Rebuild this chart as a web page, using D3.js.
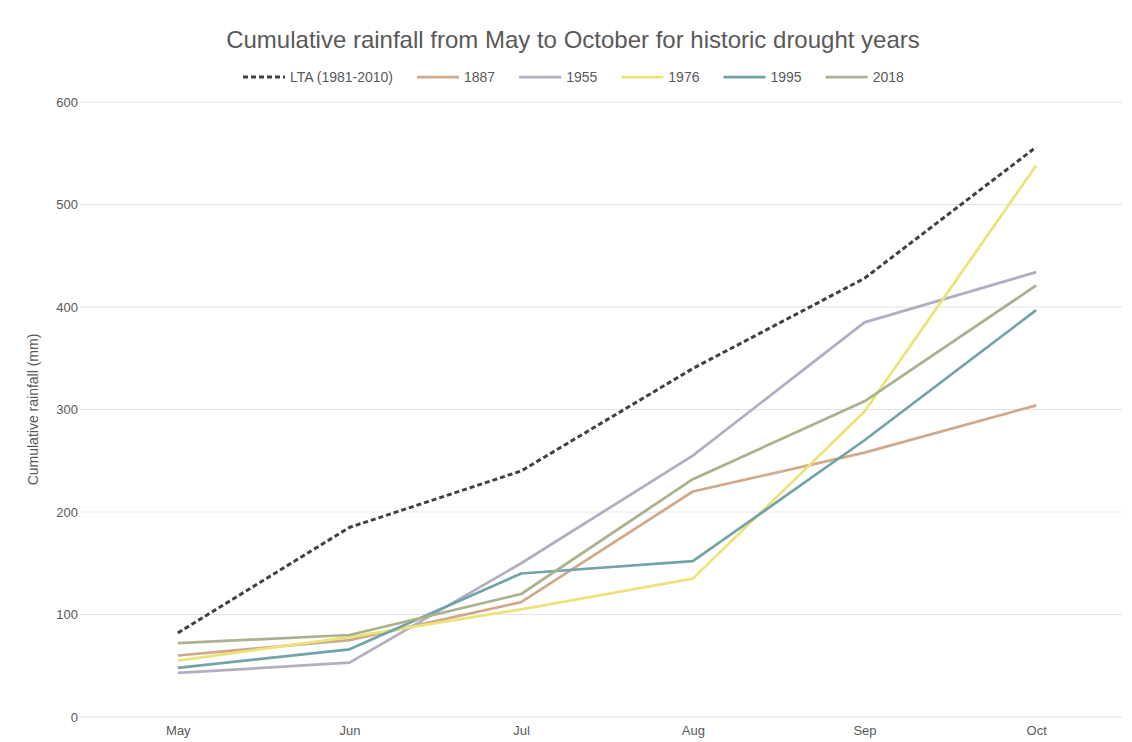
<!DOCTYPE html>
<html>
<head>
<meta charset="utf-8">
<script src="https://cdn.jsdelivr.net/npm/d3@7"></script>
<style>
  body { margin: 0; background: #fff; }
  svg { display: block; font-family: "Liberation Sans", Arial, sans-serif; }
</style>
</head>
<body>
<div id="chart"></div>
<script>
/* ── data ─────────────────────────────────────────────── */
const months = ['May', 'Jun', 'Jul', 'Aug', 'Sep', 'Oct'];
const yTicks = [0, 100, 200, 300, 400, 500, 600];

const seriesNames = ['LTA (1981-2010)', '1887', '1955', '1976', '1995', '2018'];
const lta    = [82, 185, 240, 340, 428, 556];
const y1887  = [60, 75, 112, 220, 258, 304];
const y1955  = [43, 53, 150, 255, 385, 434];
const y1976  = [55, 78, 105, 135, 298, 538];
const y1995  = [48, 66, 140, 152, 270, 397];
const y2018  = [72, 80, 120, 232, 308, 421];

const seriesValues = [lta, y1887, y1955, y1976, y1995, y2018];
const colors = ['#404040', '#cfa98a', '#b0aec0', '#ede27a', '#72a3a8', '#a9b28e'];

/* ── layout ───────────────────────────────────────────── */
const W = 1132, H = 742;
const ML = 92, MR = 10, MT = 102, MB = 25;
const FONT = '"Liberation Sans", Arial, sans-serif';

const svg = d3.select('#chart').append('svg')
  .attr('width', W).attr('height', H);

const x = d3.scalePoint().domain(months).range([ML, W - MR]).padding(0.5);
const y = d3.scaleLinear().domain([0, 600]).range([H - MB, MT]);

// gridlines
svg.append('g')
  .selectAll('line').data(yTicks).join('line')
  .attr('x1', ML - 12).attr('x2', W - MR)
  .attr('y1', d => y(d)).attr('y2', d => y(d))
  .attr('stroke', '#e3e3e3').attr('stroke-width', 1);

// y axis labels
const yAxis = svg.append('g').attr('transform', `translate(${ML - 10},0)`)
  .call(d3.axisLeft(y).tickValues(yTicks).tickSize(0).tickPadding(4));
yAxis.select('.domain').remove();
yAxis.selectAll('text').attr('font-size', 13).attr('fill', '#595959')
  .style('font-family', FONT);

// x axis labels
const xAxis = svg.append('g').attr('transform', `translate(0,${H - MB + 7})`)
  .call(d3.axisBottom(x).tickSize(0).tickPadding(2));
xAxis.select('.domain').remove();
xAxis.selectAll('text').attr('font-size', 13).attr('fill', '#595959')
  .style('font-family', FONT);

// y axis title
svg.append('text')
  .attr('transform', `translate(38,${(MT + H - MB) / 2}) rotate(-90)`)
  .attr('text-anchor', 'middle').attr('font-size', 14).attr('fill', '#595959')
  .text('Cumulative rainfall (mm)');

// chart title
svg.append('text')
  .attr('x', 573).attr('y', 48).attr('text-anchor', 'middle')
  .attr('font-size', 24).attr('fill', '#595959')
  .text('Cumulative rainfall from May to October for historic drought years');

// ── lines ─────────────────────────────────────────────
const line = d3.line().x((d, i) => x(months[i])).y(d => y(d));

// draw year lines first, LTA on top
const order = [1, 2, 3, 4, 5, 0];
svg.append('g').selectAll('path').data(order).join('path')
  .attr('d', i => line(seriesValues[i]))
  .attr('fill', 'none')
  .attr('stroke', i => colors[i])
  .attr('stroke-width', i => i === 0 ? 3 : 2.75)
  .attr('stroke-dasharray', i => i === 0 ? '5,3' : null)
  .attr('stroke-linejoin', 'round');

// ── legend ────────────────────────────────────────────
const legend = svg.append('g').attr('transform', 'translate(0,77)');
let lx = 243;
seriesNames.forEach((name, i) => {
  const g = legend.append('g').attr('transform', `translate(${lx},0)`);
  g.append('line')
    .attr('x1', 0).attr('x2', 42).attr('y1', 0).attr('y2', 0)
    .attr('stroke', colors[i]).attr('stroke-width', i === 0 ? 3 : 2.75)
    .attr('stroke-dasharray', i === 0 ? '5,3' : null);
  const t = g.append('text')
    .attr('x', 47).attr('y', 5).attr('font-size', 14).attr('fill', '#595959')
    .text(name);
  lx += 47 + t.node().getComputedTextLength() + 24;
});
</script>
</body>
</html>
